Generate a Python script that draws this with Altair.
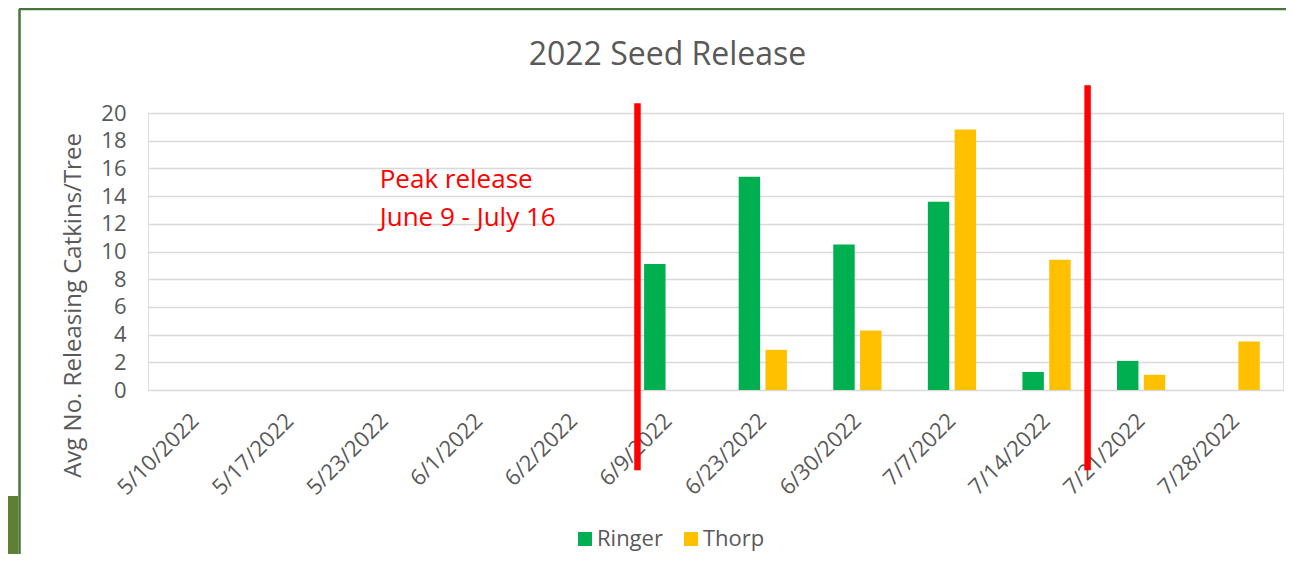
import altair as alt
import pandas as pd

# ---- data ----
dates = ["5/10/2022", "5/17/2022", "5/23/2022", "6/1/2022", "6/2/2022", "6/9/2022",
         "6/23/2022", "6/30/2022", "7/7/2022", "7/14/2022", "7/21/2022", "7/28/2022"]
series = ["Ringer", "Thorp"]
ringer = [None, None, None, None, None, 9.1, 15.4, 10.5, 13.6, 1.3, 2.1, None]
thorp = [None, None, None, None, None, None, 2.9, 4.3, 18.8, 9.4, 1.1, 3.5]
colors = ["#00B050", "#FFC000"]

# peak-release marker lines (position in category units, 0..12)
peak_pos = [5.175, 9.934]
peak_top = [20.7, 22.0]
peak_bottom = [-5.8, -5.8]

note_lines = ["Peak release", "June 9 - July 16"]
note_y = [14.58, 11.84]
note_pos = [2.45, 2.45]

y_ticks = list(range(0, 21, 2))

FONT = "Open Sans"
GRAY = "#595959"

rows = []
for d, r, t in zip(dates, ringer, thorp):
    if r is not None:
        rows.append({"date": d, "series": "Ringer", "value": r})
    if t is not None:
        rows.append({"date": d, "series": "Thorp", "value": t})
bars_df = pd.DataFrame(rows)
lines_df = pd.DataFrame({"pos": peak_pos, "value": peak_top, "value2": peak_bottom})
note_df = pd.DataFrame({"pos": note_pos, "value": note_y, "text": note_lines})

W, H = 1135, 277
yscale = alt.Scale(domain=[0, 20], nice=False, zero=True)
qx = alt.Scale(domain=[0, 12], nice=False, zero=False)


def y_axis():
    return alt.Axis(values=y_ticks, title="Avg No. Releasing Catkins/Tree",
                    titleFontSize=24, titleColor=GRAY, titleFont=FONT,
                    titleFontWeight="normal", titleX=-63, titleY=192,
                    labelFontSize=22, labelColor=GRAY, labelFont=FONT,
                    labelPadding=22, labelOverlap=False, ticks=False, tickSize=0,
                    domain=False, grid=True, gridColor="#D9D9D9", gridWidth=1.5)


bars = alt.Chart(bars_df).mark_bar().encode(
    x=alt.X("date:N", sort=dates, title=None,
            scale=alt.Scale(domain=dates, paddingInner=0.49, paddingOuter=0.245),
            axis=alt.Axis(labelAngle=315, labelAlign="right", labelBaseline="middle",
                          labelFontSize=22, labelColor=GRAY, labelFont=FONT,
                          labelPadding=27, labelOverlap=False, ticks=False, tickSize=0,
                          domain=False, grid=False)),
    xOffset=alt.XOffset("series:N", sort=series,
                        scale=alt.Scale(domain=series, paddingInner=0.2)),
    y=alt.Y("value:Q", scale=yscale, axis=y_axis()),
    color=alt.Color("series:N", sort=series,
                    scale=alt.Scale(domain=series, range=colors),
                    legend=alt.Legend(title=None, orient="none", direction="horizontal",
                                      legendX=426, legendY=415, symbolType="square",
                                      symbolSize=196, symbolStrokeWidth=0,
                                      labelFontSize=22, labelColor=GRAY, labelFont=FONT,
                                      labelOffset=1, columnPadding=17)),
)

rules = alt.Chart(lines_df).mark_rule(color="#FF0000", strokeWidth=6.5).encode(
    x=alt.X("pos:Q", scale=qx, axis=None),
    y=alt.Y("value:Q", scale=yscale, axis=y_axis()),
    y2="value2:Q",
)

note = alt.Chart(note_df).mark_text(
    align="left", baseline="alphabetic", color="#FF0000", fontSize=26, font=FONT
).encode(
    x=alt.X("pos:Q", scale=qx, axis=None),
    y=alt.Y("value:Q", scale=yscale, axis=y_axis()),
    text="text:N",
)

deco = pd.DataFrame({"k": [0]})
frame_top = alt.Chart(deco).mark_rule(color="#46763A", strokeWidth=2.5).encode(
    x=alt.value(-129), x2=alt.value(1160), y=alt.value(-104))
frame_left = alt.Chart(deco).mark_rule(color="#46763A", strokeWidth=2.5).encode(
    x=alt.value(-128.5), y=alt.value(-104), y2=alt.value(460))
frame_block = alt.Chart(deco).mark_rect(color="#5E7F34").encode(
    x=alt.value(-141), x2=alt.value(-130), y=alt.value(383), y2=alt.value(460))

chart = alt.layer(frame_top, frame_left, frame_block, bars, rules, note).resolve_scale(
    x="independent"
).resolve_axis(x="independent").properties(
    width=W, height=H,
    title=alt.TitleParams("2022 Seed Release", fontSize=32, color=GRAY, font=FONT,
                          fontWeight="normal", anchor="middle", frame="group",
                          baseline="alphabetic", offset=0, dx=-48, dy=89),
    autosize=alt.AutoSizeParams(type="none"),
    padding={"left": 140, "top": 105, "right": 3, "bottom": 164},
).configure_view(strokeWidth=0).configure(background="white")

chart.save("out.html", embed_options={"renderer": "svg", "actions": False})
